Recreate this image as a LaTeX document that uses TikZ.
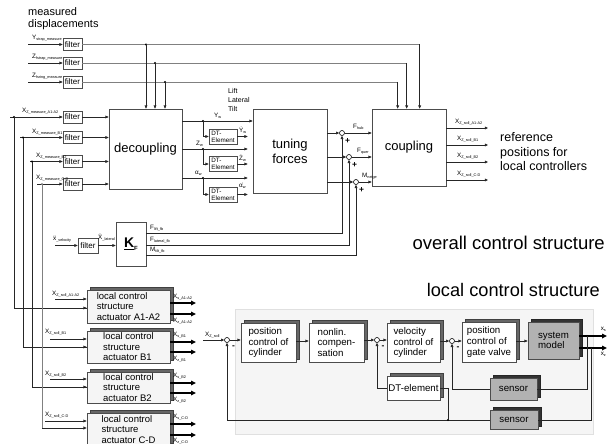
\documentclass[tikz,border=0pt]{standalone}
\usepackage{fontspec}
\setmainfont{Liberation Sans}
\usetikzlibrary{arrows.meta,shadows,calc}
\newcommand{\slab}[2]{{\fontsize{6.3}{6.3}\selectfont #1}\raisebox{-1pt}{\fontsize{3.8}{3.8}\selectfont #2}}
\begin{document}
\begin{tikzpicture}[x=1pt,y=-1pt,
  line/.style={draw=black!85, line width=0.6pt},
  gline/.style={draw=black!50, line width=0.6pt},
  arr/.style={line, -{Triangle[length=3.2pt,width=2.8pt]}},
  garr/.style={gline, -{Triangle[length=3.2pt,width=2.8pt]}},
  tarr/.style={draw=black, line width=1.6pt, -{Triangle[length=5pt,width=4.6pt]}},
  box/.style={draw=black!70, line width=0.7pt, fill=white, inner sep=0pt, align=center},
  filt/.style={box, minimum width=19pt, minimum height=12pt, font=\fontsize{8}{8}\selectfont,
    drop shadow={shadow xshift=0.9pt, shadow yshift=-0.9pt, fill=black!55, opacity=1}},
  big/.style={box, font=\fontsize{13}{15}\selectfont},
  dtbox/.style={box, minimum width=28pt, minimum height=15pt, align=left, font=\fontsize{6.3}{7}\selectfont,
    drop shadow={shadow xshift=0.9pt, shadow yshift=-0.9pt, fill=black!55, opacity=1}},
  lbox/.style={box, fill=black!4, minimum width=83pt, align=left, font=\fontsize{9.5}{10.5}\selectfont,
    general shadow={shadow xshift=3.5pt, shadow yshift=3pt, fill=black!60, draw=black!75}},
  ibox/.style={box, minimum width=55pt, minimum height=39pt, align=left, font=\fontsize{9.7}{10.6}\selectfont,
    general shadow={shadow xshift=3.5pt, shadow yshift=3pt, fill=black!60, draw=black!75}},
  gbox/.style={box, fill=black!30, align=left, font=\fontsize{9.7}{10.6}\selectfont,
    general shadow={shadow xshift=3.5pt, shadow yshift=3pt, fill=black!80, draw=black!85}},
  sumc/.style={circle, draw=black, line width=0.6pt, fill=white, inner sep=0pt, minimum size=5pt},
  lab/.style={inner sep=0pt},
  pm/.style={inner sep=0pt, font=\fontsize{8.5}{8.5}\selectfont\bfseries},
]
\useasboundingbox (0,0) rectangle (608,444);

% ---------- top part ----------
\node[lab, anchor=west, align=left, font=\fontsize{11}{12}\selectfont] (md) at (28,19) {measured\\displacements};

\node[filt] (f1) at (72.5,44.5) {filter};
\node[filt] (f2) at (72.5,63) {filter};
\node[filt] (f3) at (72.5,82) {filter};
\coordinate (i1) at (28,44.5);
\coordinate (i2) at (28,63);
\coordinate (i3) at (28,82);
\draw[arr] (i1) -- (f1.west);
\draw[arr] (i2) -- (f2.west);
\draw[arr] (i3) -- (f3.west);
\node[lab, anchor=south west] (l1) at (32,41.5) {\slab{Y}{strap\_measure}};
\node[lab, anchor=south west] (l2) at (32,60) {\slab{Z}{fstrap\_measure}};
\node[lab, anchor=south west] (l3) at (32,79) {\slab{Z}{fsring\_measure}};

\node[big, minimum width=73pt, minimum height=80pt] (dc) at (145.5,149) {decoupling};
\node[big, minimum width=74pt, minimum height=84pt] (tf) at (290,151) {tuning\\forces};
\node[big, minimum width=74pt, minimum height=77pt] (cp) at (409,147.5) {coupling};

\coordinate (k1) at ([xshift=48pt]cp.north west |- f1.east);
\coordinate (k2) at ([xshift=35pt]cp.north west |- f2.east);
\coordinate (k3) at ([xshift=26pt]cp.north west |- f3.east);
\draw[gline] (f1.east) -- (k1);
\draw[gline] (f2.east) -- (k2);
\draw[gline] (f3.east) -- (k3);
\draw[arr] (k1) -- (k1 |- cp.north);
\draw[arr] (k2) -- (k2 |- cp.north);
\draw[arr] (k3) -- (k3 |- cp.north);
\fill (146,44.5) circle (1.1pt);
\fill (155,63) circle (1.1pt);
\fill (165,82) circle (1.1pt);
\draw[arr] (146,44.5) -- (146,0 |- dc.north);
\draw[arr] (155,63) -- (155,0 |- dc.north);
\draw[arr] (165,82) -- (165,0 |- dc.north);

% lower filters
\node[filt] (f4) at (72.5,117) {filter};
\node[filt] (f5) at (72.5,137.5) {filter};
\node[filt] (f6) at (72.5,161.5) {filter};
\node[filt] (f7) at (72.5,184) {filter};
\coordinate (m1) at (10,117);
\coordinate (m2) at (20,137.5);
\coordinate (m3) at (30,161.5);
\coordinate (m4) at (37,184);
\draw[arr] (m1) -- (f4.west);
\draw[arr] (m2) -- (f5.west);
\draw[arr] (m3) -- (f6.west);
\draw[arr] (m4) -- (f7.west);
\node[lab, anchor=south west] (l4) at (22,114.5) {\slab{X}{Z\_measure\_A1-A2}};
\node[lab, anchor=south west] (l5) at (32,135) {\slab{X}{Z\_measure\_B1}};
\node[lab, anchor=south west] (l6) at (36,159) {\slab{X}{Z\_measure\_B2}};
\node[lab, anchor=south west] (l7) at (36,181.5) {\slab{X}{Z\_measure\_C-D}};
\draw[arr] (f4.east) -- (dc.west |- f4.east);
\draw[arr] (f5.east) -- (dc.west |- f5.east);
\draw[arr] (f6.east) -- (dc.west |- f6.east);
\draw[arr] (f7.east) -- (dc.west |- f7.east);
\fill (14,117) circle (1.1pt);
\fill (23,137.5) circle (1.1pt);
\fill (32,161.5) circle (1.1pt);
\fill[black!45] (42,184) circle (1.1pt);

% decoupling outputs and DT elements
\node[dtbox] (d1) at (223,136.5) {DT-\\Element};
\node[dtbox] (d2) at (223,164) {DT-\\Element};
\node[dtbox] (d3) at (223,194.5) {DT-\\Element};
\draw[arr] (dc.east |- 0,121) -- (tf.west |- 0,121);
\draw[arr] (dc.east |- 0,149) -- ([xshift=-5pt]tf.west |- 0,149);
\draw[arr] (dc.east |- 0,178) -- ([xshift=-5pt]tf.west |- 0,178);
\fill (203,121) circle (1.1pt);
\fill (203,149) circle (1.1pt);
\fill (203,178) circle (1.1pt);
\draw[arr] (203,121) |- (d1.west);
\draw[arr] (203,149) |- (d2.west);
\draw[arr] (203,178) |- (d3.west);
\draw[arr] (d1.east) -- ([xshift=-5pt]tf.west |- d1.east);
\draw[arr] (d2.east) -- ([xshift=-5pt]tf.west |- d2.east);
\draw[arr] (d3.east) -- ([xshift=-5pt]tf.west |- d3.east);
\node[lab, anchor=south west] (yw) at (214,119) {\slab{Y}{w}};
\node[lab, anchor=south west] (zw) at (196,147) {\slab{Z}{w}};
\node[lab, anchor=south west] (aw) at (195,176) {\slab{α}{w}};
\node[lab, anchor=south west] (ydw) at (239,134) {\slab{\.{Y}}{w}};
\node[lab, anchor=south west] (zdw) at (239,161.5) {\slab{\.{Z}}{w}};
\node[lab, anchor=south west] (adw) at (239,189) {\slab{\.{α}}{w}};
\node[lab, anchor=north west, align=left, font=\fontsize{7}{9}\selectfont] (llt) at (228,88.5) {Lift\\Lateral\\Tilt};

% sums
\node[sumc] (c1) at (342,133) {};
\node[sumc] (c2) at (349,157) {};
\node[sumc] (c3) at (356,182) {};
\draw[arr] (tf.east |- c1) -- (c1.west);
\draw[arr] (tf.east |- c2) -- (c2.west);
\draw[arr] (tf.east |- c3) -- (c3.west);
\draw[arr] (c1.east) -- (cp.west |- c1);
\draw[arr] (c2.east) -- (cp.west |- c2);
\draw[arr] (c3.east) -- (cp.west |- c3);
\node[pm] (p1) at (347.5,141.5) {+};
\node[pm] (p2) at (354.5,165.5) {+};
\node[pm] (p3) at (361.5,190.5) {+};
\node[lab, anchor=south west] (fh) at (353,130) {\slab{F}{hub}};
\node[lab, anchor=south west] (fq) at (357,154) {\slab{F}{quer}};
\node[lab, anchor=south west] (mn) at (362,179) {\slab{M}{neige}};

% coupling outputs
\coordinate (o1) at (488,128);
\coordinate (o2) at (488,145);
\coordinate (o3) at (488,162);
\coordinate (o4) at (488,180);
\draw[arr] (cp.east |- o1) -- (o1);
\draw[arr] (cp.east |- o2) -- (o2);
\draw[arr] (cp.east |- o3) -- (o3);
\draw[arr] (cp.east |- o4) -- (o4);
\node[lab, anchor=south west] (s1l) at (455,125.5) {\slab{X}{Z\_soll\_A1-A2}};
\node[lab, anchor=south west] (s2l) at (457,142.5) {\slab{X}{Z\_soll\_B1}};
\node[lab, anchor=south west] (s3l) at (457,159.5) {\slab{X}{Z\_soll\_B2}};
\node[lab, anchor=south west] (s4l) at (457,177.5) {\slab{X}{Z\_soll\_C-D}};
\node[lab, anchor=west, align=left, font=\fontsize{12.5}{14.5}\selectfont] (refp) at (500,152) {reference\\positions for\\local controllers};

% K_F part
\node[filt, minimum width=20pt, minimum height=15pt] (fk) at (88,245.5) {filter};
\node[box, minimum width=30pt, minimum height=44pt, font=\bfseries\fontsize{14}{14}\selectfont] (kf) at (131,244) {\underline{K}\raisebox{-2.5pt}{\fontsize{6}{6}\selectfont F}};
\coordinate (ik) at (55,245.5);
\draw[arr] (ik) -- (fk.west);
\draw[arr] (fk.east) -- (kf.west |- fk.east);
\node[lab, anchor=south west] (xv) at (53,242) {\slab{\"{x}}{\_velocity}};
\node[lab, anchor=south west] (xl) at (98,241.5) {\slab{\"{X}}{\_lateral}};
\draw[arr] (kf.east |- 0,233) -| (c1.south);
\draw[arr] (kf.east |- 0,245) -| (c2.south);
\draw[arr] (kf.east |- 0,255) -| (c3.south);
\node[lab, anchor=south west] (ffb1) at (150,231) {\slab{F}{lift\_fb}};
\node[lab, anchor=south west] (ffb2) at (150,243) {\slab{F}{lateral\_fb}};
\node[lab, anchor=south west] (ffb3) at (150,253) {\slab{M}{tilt\_fb}};

\node[lab, anchor=east, font=\fontsize{18.5}{18.5}\selectfont] (ocs) at (605,243) {overall control structure};
\node[lab, anchor=east, font=\fontsize{18.2}{18.2}\selectfont] (lcs) at (600,290) {local control structure};

% ---------- local control structures (left) ----------
\node[lbox, minimum height=33pt] (a1) at (128.5,306.5) {local control\\structure\\actuator A1-A2};
\node[lbox, minimum height=32pt] (b1) at (128.5,347) {local control\\structure\\actuator B1};
\node[lbox, minimum height=31pt] (b2) at (128.5,387.5) {local control\\structure\\actuator B2};
\node[lbox, minimum height=33pt] (cd) at (128.5,429.5) {local control\\structure\\actuator C-D};

\draw[line] (14,117) |- (a1.west |- 0,308);
\draw[arr] (20,308) -- (a1.west |- 0,308);
\draw[line] (23,137.5) |- (b1.west |- 0,347);
\draw[arr] (28,347) -- (b1.west |- 0,347);
\draw[line] (32,161.5) |- (b2.west |- 0,387);
\draw[arr] (36,387) -- (b2.west |- 0,387);
\draw[gline, line width=0.9pt] (42,184) -- (42,428);
\draw[arr, line width=0.9pt] (42,428) -- (cd.west |- 0,428);

\coordinate (z1) at (55,299);
\coordinate (z2) at (50,339);
\coordinate (z3) at (50,379);
\coordinate (z4) at (45,421);
\draw[arr] (z1) -- (a1.west |- z1);
\draw[arr] (z2) -- (b1.west |- z2);
\draw[arr] (z3) -- (b2.west |- z3);
\draw[arr] (z4) -- (cd.west |- z4);
\node[lab, anchor=south west] (zl1) at (52,297) {\slab{X}{Z\_soll\_A1-A2}};
\node[lab, anchor=south west] (zl2) at (45,335) {\slab{X}{Z\_soll\_B1}};
\node[lab, anchor=south west] (zl3) at (45,377) {\slab{X}{Z\_soll\_B2}};
\node[lab, anchor=south west] (zl4) at (45,418) {\slab{X}{Z\_soll\_C-D}};

\coordinate (q1) at (196,303);  \coordinate (q2) at (196,314);
\coordinate (q3) at (196,342);  \coordinate (q4) at (196,352);
\coordinate (q5) at (196,383);  \coordinate (q6) at (196,393);
\coordinate (q7) at (196,424);  \coordinate (q8) at (196,435);
\draw[tarr] (a1.east |- q1) -- (q1);
\draw[tarr] (a1.east |- q2) -- (q2);
\draw[tarr] (b1.east |- q3) -- (q3);
\draw[tarr] (b1.east |- q4) -- (q4);
\draw[tarr] (b2.east |- q5) -- (q5);
\draw[tarr] (b2.east |- q6) -- (q6);
\draw[tarr] (cd.east |- q7) -- (q7);
\draw[tarr] (cd.east |- q8) -- (q8);
\node[lab, anchor=west] (ql1) at (173,297) {\slab{X}{s\_A1-A2}};
\node[lab, anchor=west] (ql2) at (173,321) {\slab{X}{z\_A1-A2}};
\node[lab, anchor=west] (ql3) at (173,335.5) {\slab{X}{s\_B1}};
\node[lab, anchor=west] (ql4) at (173,359.5) {\slab{X}{z\_B1}};
\node[lab, anchor=west] (ql5) at (173,376) {\slab{X}{s\_B2}};
\node[lab, anchor=west] (ql6) at (173,400) {\slab{X}{z\_B2}};
\node[lab, anchor=west] (ql7) at (173,417) {\slab{X}{s\_C-D}};
\node[lab, anchor=west] (ql8) at (173,441) {\slab{X}{z\_C-D}};

% ---------- local control structure detail ----------
\node[draw=black!12, fill=black!4, minimum width=358pt, minimum height=125pt, inner sep=0pt] (panel) at (414,371.5) {};

\node[sumc] (ci1) at (227,340) {};
\node[sumc] (ci2) at (377,340) {};
\node[sumc] (ci3) at (452,341) {};
\node[ibox] (pcc) at (268.5,342.5) {position\\control of\\cylinder};
\node[ibox] (nl) at (336.5,342.5) {nonlin.\\compen-\\sation};
\node[ibox, minimum width=53pt] (vel) at (413.5,342.5) {velocity\\control of\\cylinder};
\node[ibox, minimum width=53pt, minimum height=24pt] (dte) at (413.5,388) {DT-element};
\node[ibox, minimum width=54pt, minimum height=40pt] (gv) at (489,342) {position\\control of\\gate valve};
\node[gbox, minimum width=51pt, minimum height=37pt] (sm) at (553.5,340.5) {system\\model};
\node[gbox, minimum width=47pt, minimum height=22pt] (sn1) at (513.5,389) {sensor};
\node[gbox, minimum width=48pt, minimum height=19pt] (sn2) at (514,420) {sensor};

\coordinate (pin) at (203,340);
\draw[arr] (pin) -- (ci1.west);
\node[lab, anchor=south west] (xzs) at (205,338) {\slab{X}{Z\_soll}};
\draw[arr] (ci1.east) -- (pcc.west |- ci1);
\draw[arr] (pcc.east |- 0,341) -- (nl.west |- 0,341);
\draw[arr] (nl.east |- ci2) -- (ci2.west);
\draw[arr] (ci2.east) -- (vel.west |- ci2);
\draw[arr] (vel.east |- ci3) -- (ci3.west);
\draw[arr] (ci3.east) -- (gv.west |- ci3);
\draw[arr] (gv.east |- 0,341) -- (sm.west |- 0,341);
\coordinate (xso) at (607,336);
\coordinate (xzo) at (607,348);
\draw[tarr] (sm.east |- xso) -- (xso);
\draw[tarr] (sm.east |- xzo) -- (xzo);
\node[lab, anchor=east] (xsl) at (606,329) {\slab{x}{s}};
\node[lab, anchor=east] (xzl) at (606,354.5) {\slab{x}{z}};
\fill (587,336) circle (1.2pt);
\fill (591,348) circle (1.2pt);
\draw[line] (587,336) |- (sn1.east);
\draw[line] (591,348) |- (sn2.east);
\draw[arr] (sn1.west) -| (ci3.south);
\draw[arr] (sn2.west) -| (ci1.south);
\fill (448,420) circle (1.2pt);
\draw[line] (448,420) |- (dte.east);
\draw[arr] (dte.west) -| (ci2.south);
\node[pm] (mi1) at (233.5,347) {-};
\node[pm] (mi2) at (383,347) {-};
\node[pm] (mi3) at (458,348) {-};
\end{tikzpicture}
\end{document}
